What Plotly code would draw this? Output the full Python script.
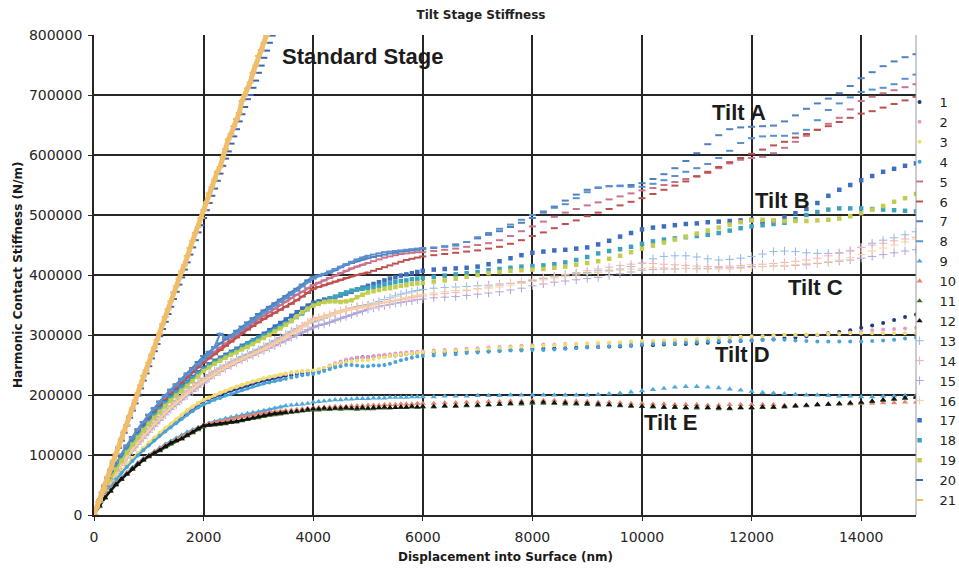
import plotly.graph_objects as go

# Displacement grid (nm) shared by the tilt-stage runs
DISP = [0, 100, 200, 300, 400, 500, 600, 700, 800, 900,
        1000, 1100, 1200, 1300, 1400, 1500, 1600, 1700, 1800, 1900,
        2000, 2100, 2200, 2300, 2400, 2500, 2600, 2700, 2800, 2900,
        3000, 3100, 3200, 3300, 3400, 3500, 3600, 3700, 3800, 3900,
        4000, 4100, 4200, 4300, 4400, 4500, 4600, 4700, 4800, 4900,
        5000, 5100, 5200, 5300, 5400, 5500, 5600, 5700, 5800, 5900,
        6000, 6200, 6400, 6600, 6800, 7000, 7200, 7400, 7600, 7800,
        8000, 8200, 8400, 8600, 8800, 9000, 9200, 9400, 9600, 9800,
        10000, 10200, 10400, 10600, 10800, 11000, 11200, 11400, 11600, 11800,
        12000, 12200, 12400, 12600, 12800, 13000, 13200, 13400, 13600, 13800,
        14000, 14200, 14400, 14600, 14800, 15000]

# Displacement grid (nm) for the standard stage runs
STD_DISP = [0, 50, 100, 150, 200, 250, 300, 350, 400, 450,
            500, 550, 600, 650, 700, 750, 800, 850, 900, 950,
            1000, 1050, 1100, 1150, 1200, 1250, 1300, 1350, 1400, 1450,
            1500, 1550, 1600, 1650, 1700, 1750, 1800, 1850, 1900, 1950,
            2000, 2050, 2100, 2150, 2200, 2250, 2300, 2350, 2400, 2450,
            2500, 2550, 2600, 2650, 2700, 2750, 2800, 2850, 2900, 2950,
            3000, 3050, 3100, 3150, 3200, 3250]

# Harmonic contact stiffness, kN/m
# Tilt D (runs 1-4)
run1 = [0, 18, 34, 48, 60, 72, 82, 92, 101, 110, 119, 127, 134, 142, 149, 156, 163, 171, 178, 184,
        190, 193, 197, 200, 204, 207, 210, 213, 216, 219, 222, 224, 226, 228, 230, 232, 233, 235, 236, 237,
        238, 240, 243, 246, 250, 253, 257, 260, 262, 263, 263, 264, 265, 266, 266, 266, 267, 268, 269, 270,
        270,
        271, 271, 272, 272, 273, 273, 274, 275, 276, 277, 277, 278, 278, 279, 280, 280, 281, 281, 282, 283,
        283, 284, 285, 285, 286, 287, 288, 289, 290, 291, 292, 293, 295, 296, 298, 300, 303, 305, 308, 312,
        316, 320, 325, 330, 334]
run2 = [0, 18, 35, 49, 61, 73, 83, 93, 102, 111, 120, 128, 136, 143, 151, 158, 166, 173, 180, 186,
        191, 195, 199, 203, 207, 210, 213, 216, 219, 222, 224, 227, 229, 231, 233, 235, 237, 238, 239, 240,
        240, 242, 245, 249, 253, 256, 259, 261, 262, 262, 263, 265, 266, 267, 268, 269, 270, 271, 272, 272,
        273,
        274, 275, 276, 277, 278, 279, 280, 281, 282, 283, 284, 284, 285, 285, 286, 286, 287, 287, 288, 288,
        289, 289, 290, 291, 292, 293, 294, 295, 296, 297, 298, 299, 300, 300, 300, 300, 301, 302, 304, 306,
        308, 309, 310, 311, 312]
run3 = [0, 19, 36, 50, 62, 74, 84, 94, 103, 112, 121, 129, 137, 145, 152, 160, 167, 175, 181, 187,
        192, 196, 200, 204, 207, 211, 214, 217, 220, 223, 225, 228, 230, 232, 234, 236, 238, 239, 240, 241,
        241, 243, 245, 248, 251, 253, 255, 256, 257, 258, 258, 260, 262, 263, 265, 266, 267, 268, 269, 270,
        271,
        272, 273, 274, 275, 276, 277, 278, 279, 280, 281, 282, 283, 284, 285, 286, 287, 287, 288, 289, 290,
        290, 291, 292, 292, 293, 294, 295, 296, 297, 298, 298, 299, 300, 300, 301, 301, 302, 302, 303, 303,
        303, 303, 303, 303, 303]
run4 = [0, 18, 34, 47, 59, 70, 80, 90, 99, 108, 116, 124, 132, 139, 146, 153, 160, 167, 173, 179,
        184, 188, 192, 195, 199, 202, 205, 208, 211, 214, 217, 219, 221, 223, 225, 227, 229, 231, 233, 234,
        235, 237, 240, 243, 246, 248, 250, 250, 249, 248, 248, 249, 249, 250, 252, 255, 258, 260, 262, 264,
        265,
        266, 267, 268, 270, 271, 272, 273, 274, 274, 275, 275, 276, 277, 278, 279, 280, 281, 282, 283, 284,
        285, 286, 286, 287, 288, 289, 290, 290, 291, 291, 292, 292, 292, 291, 290, 289, 289, 289, 289, 289,
        290, 291, 292, 294, 296]

# Tilt A (runs 5-8)
run5 = [0, 25, 47, 66, 84, 100, 115, 129, 142, 154, 166, 177, 188, 198, 207, 216, 225, 234, 242, 250,
        258, 265, 272, 279, 286, 293, 300, 307, 314, 320, 326, 332, 338, 344, 350, 356, 362, 367, 372, 378,
        383, 387, 391, 395, 399, 403, 407, 411, 414, 417, 420, 423, 426, 429, 431, 433, 435, 436, 437, 438,
        438,
        440, 442, 444, 447, 450, 453, 458, 465, 473, 481, 489, 497, 504, 510, 516, 521, 526, 531, 536, 541,
        545, 550, 555, 560, 565, 570, 578, 586, 592, 595, 597, 603, 612, 622, 632, 642, 652, 662, 676, 690,
        697, 703, 708, 713, 718]
run6 = [0, 24, 46, 65, 82, 97, 112, 125, 138, 150, 161, 172, 182, 192, 202, 211, 220, 229, 238, 246,
        254, 261, 268, 275, 282, 289, 296, 303, 309, 315, 321, 327, 332, 337, 342, 347, 352, 358, 364, 370,
        377, 380, 383, 386, 389, 392, 395, 398, 400, 402, 404, 407, 410, 413, 416, 419, 422, 425, 427, 429,
        431,
        433, 435, 437, 439, 441, 444, 447, 452, 458, 465, 471, 478, 485, 491, 498, 504, 510, 516, 522, 528,
        535, 542, 549, 556, 564, 572, 580, 588, 595, 602, 609, 616, 622, 629, 635, 642, 648, 655, 662, 669,
        673, 679, 685, 691, 697]
run7 = [0, 25, 48, 67, 85, 101, 116, 130, 143, 155, 167, 178, 189, 199, 209, 218, 227, 236, 245, 255,
        265, 272, 279, 286, 293, 300, 307, 314, 321, 328, 335, 341, 347, 353, 359, 365, 371, 377, 384, 391,
        397, 399, 401, 404, 408, 413, 417, 420, 423, 426, 428, 430, 432, 434, 436, 437, 439, 440, 441, 442,
        443,
        445, 448, 451, 455, 461, 467, 473, 480, 487, 495, 504, 514, 524, 534, 542, 546, 548, 549, 550, 553,
        560, 568, 578, 590, 603, 618, 633, 643, 646, 647, 648, 649, 656, 666, 677, 686, 694, 703, 715, 728,
        738, 748, 756, 763, 768]
run8 = [0, 25, 47, 67, 84, 100, 115, 129, 142, 155, 167, 178, 189, 199, 208, 217, 226, 235, 243, 251,
        259, 268, 280, 302, 296, 297, 303, 310, 317, 324, 331, 337, 343, 349, 355, 361, 367, 374, 381, 388,
        394, 398, 402, 406, 410, 414, 418, 422, 426, 429, 432, 434, 436, 438, 439, 440, 441, 442, 443, 444,
        445,
        446, 447, 449, 455, 463, 470, 477, 484, 492, 500, 506, 512, 518, 528, 538, 545, 548, 548, 547, 547,
        552, 558, 565, 572, 578, 585, 595, 607, 620, 628, 631, 632, 632, 636, 642, 658, 675, 686, 696, 705,
        709, 712, 718, 727, 734]

# Tilt E (runs 9-12)
run9 = [0, 16, 30, 42, 53, 62, 71, 79, 87, 94, 100, 106, 112, 118, 123, 128, 133, 138, 142, 146,
        150, 153, 156, 158, 161, 163, 165, 167, 169, 171, 172, 174, 176, 178, 180, 182, 183, 184, 185, 186,
        188, 189, 190, 191, 192, 192, 193, 193, 194, 194, 194, 195, 195, 195, 196, 196, 196, 196, 197, 197,
        197,
        197, 198, 198, 198, 199, 199, 199, 200, 200, 200, 200, 200, 200, 200, 200, 201, 202, 203, 205, 207,
        209, 211, 213, 214, 214, 213, 212, 210, 208, 206, 204, 203, 202, 201, 200, 200, 199, 198, 198, 197,
        197, 198, 198, 199, 199]
run10 = [0, 16, 30, 42, 52, 61, 70, 78, 86, 93, 99, 105, 110, 116, 121, 126, 130, 135, 140, 145,
         150, 152, 154, 156, 158, 160, 162, 164, 165, 167, 168, 170, 171, 172, 173, 174, 175, 176, 177, 178,
         179, 179, 180, 180, 181, 181, 181, 182, 182, 182, 183, 183, 183, 184, 184, 184, 185, 185, 185, 186,
         186,
         186, 187, 187, 188, 188, 189, 189, 190, 190, 191, 191, 191, 190, 190, 189, 188, 188, 187, 186, 186,
         185, 185, 184, 184, 184, 183, 183, 184, 184, 184, 184, 184, 183, 183, 183, 184, 184, 185, 185, 186,
         186, 187, 187, 188, 188]
run11 = [0, 15, 28, 40, 50, 59, 68, 76, 84, 91, 97, 102, 107, 113, 118, 123, 127, 132, 137, 142,
         147, 149, 150, 151, 152, 154, 155, 157, 159, 161, 162, 164, 166, 167, 168, 170, 171, 172, 173, 174,
         175, 175, 176, 176, 177, 176, 177, 177, 176, 177, 177, 177, 178, 178, 178, 179, 179, 179, 180, 180,
         180,
         180, 181, 181, 182, 182, 183, 184, 185, 185, 186, 186, 186, 185, 185, 184, 183, 183, 182, 181, 181,
         180, 179, 179, 178, 178, 178, 177, 177, 178, 178, 179, 179, 180, 181, 182, 183, 184, 185, 186, 187,
         189, 191, 193, 195, 197]
run12 = [0, 15, 29, 40, 51, 60, 68, 77, 85, 92, 98, 103, 108, 114, 120, 124, 127, 133, 138, 144,
         149, 150, 151, 152, 153, 155, 156, 158, 160, 162, 164, 166, 168, 169, 170, 171, 172, 173, 174, 176,
         177, 177, 178, 177, 178, 178, 179, 178, 178, 179, 178, 179, 179, 180, 179, 179, 180, 180, 181, 180,
         181,
         181, 182, 182, 183, 183, 184, 185, 186, 187, 188, 188, 187, 187, 186, 186, 185, 184, 183, 182, 181,
         181, 180, 180, 179, 180, 179, 179, 178, 179, 179, 180, 180, 181, 182, 183, 184, 185, 186, 187, 188,
         190, 192, 193, 195, 196]

# Tilt C (runs 13-16)
run13 = [0, 22, 42, 59, 74, 88, 100, 112, 123, 134, 144, 154, 164, 173, 182, 191, 199, 207, 214, 221,
         228, 234, 240, 245, 250, 255, 260, 264, 268, 272, 276, 281, 286, 291, 296, 301, 306, 311, 315, 319,
         322, 325, 328, 332, 336, 339, 342, 345, 347, 349, 350, 353, 356, 359, 362, 365, 368, 370, 372, 374,
         376,
         378, 379, 380, 381, 382, 383, 385, 386, 388, 391, 394, 397, 400, 402, 404, 407, 408, 410, 414, 420,
         427, 431, 432, 432, 430, 427, 425, 426, 428, 431, 435, 439, 440, 439, 437, 436, 436, 437, 440, 446,
         453, 458, 462, 467, 472]
run14 = [0, 22, 42, 58, 72, 86, 98, 110, 121, 132, 142, 152, 162, 171, 180, 189, 197, 205, 212, 219,
         226, 232, 238, 243, 248, 253, 257, 261, 265, 269, 273, 278, 283, 288, 293, 298, 303, 309, 315, 321,
         327, 329, 331, 334, 337, 340, 342, 344, 346, 348, 349, 351, 353, 354, 356, 357, 359, 360, 362, 364,
         365,
         367, 369, 371, 374, 377, 380, 383, 386, 389, 392, 395, 398, 401, 404, 407, 410, 413, 416, 418, 419,
         419, 418, 417, 416, 415, 414, 414, 415, 416, 417, 418, 419, 421, 423, 425, 428, 432, 436, 441, 446,
         450, 453, 457, 460, 463]
run15 = [0, 21, 40, 56, 70, 83, 95, 107, 118, 128, 138, 148, 158, 167, 176, 184, 192, 199, 206, 213,
         220, 227, 233, 239, 244, 249, 254, 258, 262, 266, 270, 274, 278, 282, 287, 291, 296, 300, 305, 309,
         313, 316, 318, 321, 325, 328, 331, 334, 337, 340, 343, 345, 347, 349, 351, 353, 354, 356, 357, 359,
         360,
         362, 363, 364, 366, 368, 370, 372, 375, 378, 382, 385, 388, 390, 392, 394, 396, 399, 402, 405, 408,
         409, 410, 410, 411, 411, 411, 412, 412, 413, 414, 414, 415, 415, 416, 417, 419, 421, 423, 425, 428,
         431, 434, 437, 440, 442]
run16 = [0, 22, 41, 57, 71, 85, 97, 109, 120, 131, 141, 151, 161, 170, 179, 187, 195, 203, 210, 217,
         223, 229, 235, 241, 246, 251, 256, 260, 264, 268, 272, 276, 281, 286, 291, 296, 301, 307, 313, 319,
         325, 327, 330, 333, 336, 339, 341, 343, 345, 347, 348, 350, 352, 354, 356, 358, 360, 362, 364, 366,
         368,
         370, 372, 374, 375, 377, 378, 380, 383, 386, 389, 392, 395, 398, 400, 402, 404, 406, 408, 410, 411,
         412, 412, 411, 411, 410, 410, 410, 410, 411, 412, 414, 415, 416, 417, 419, 420, 422, 425, 429, 434,
         440, 445, 450, 455, 460]

# Tilt B (runs 17-19)
run17 = [0, 24, 45, 63, 79, 94, 108, 121, 134, 146, 157, 168, 178, 188, 197, 206, 214, 222, 230, 238,
         245, 251, 257, 262, 267, 272, 277, 282, 286, 291, 296, 302, 308, 314, 320, 326, 332, 338, 344, 349,
         354, 356, 359, 361, 363, 366, 369, 372, 376, 379, 382, 385, 388, 391, 394, 396, 399, 401, 403, 405,
         407,
         409, 410, 411, 412, 414, 418, 423, 428, 433, 437, 439, 441, 442, 444, 446, 451, 457, 464, 470, 476,
         479, 481, 483, 485, 486, 488, 489, 490, 491, 492, 488, 490, 496, 503, 510, 520, 532, 542, 550, 558,
         565, 572, 577, 582, 586]
run18 = [0, 24, 44, 62, 78, 93, 107, 120, 132, 144, 155, 166, 176, 186, 195, 204, 212, 220, 228, 236,
         243, 249, 255, 260, 265, 270, 275, 280, 285, 290, 294, 299, 304, 309, 314, 319, 324, 330, 336, 343,
         350, 353, 356, 360, 364, 368, 371, 374, 376, 377, 378, 380, 382, 384, 386, 388, 390, 391, 393, 394,
         395,
         397, 399, 401, 403, 405, 408, 410, 412, 414, 415, 416, 418, 421, 425, 430, 436, 440, 443, 447, 452,
         456, 459, 461, 463, 465, 467, 470, 474, 478, 481, 483, 485, 487, 493, 500, 505, 509, 511, 511, 511,
         510, 509, 508, 507, 506]
run19 = [0, 23, 43, 60, 76, 90, 104, 117, 129, 141, 152, 162, 172, 182, 191, 199, 207, 215, 223, 231,
         240, 246, 252, 257, 262, 267, 271, 276, 280, 285, 290, 295, 300, 306, 311, 317, 323, 331, 338, 344,
         349, 352, 355, 356, 356, 355, 356, 358, 363, 367, 371, 373, 375, 377, 378, 380, 382, 383, 385, 386,
         387,
         389, 391, 394, 397, 400, 403, 405, 407, 408, 409, 410, 412, 414, 417, 420, 423, 427, 432, 438, 444,
         449, 454, 459, 464, 469, 474, 479, 484, 488, 491, 492, 491, 490, 490, 490, 491, 492, 494, 498, 503,
         509, 515, 522, 528, 535]

# Standard stage (runs 20-21)
run20 = [0, 12, 24, 37, 49, 62, 74, 87, 99, 112, 124, 137, 149, 162, 174, 186, 199, 211, 224, 236,
         248, 261, 273, 285, 298, 310, 322, 335, 347, 360, 372, 384, 396, 409, 421, 434, 446, 458, 471, 483,
         495, 508, 520, 532, 544, 557, 569, 582, 594, 606, 619, 631, 643, 656, 668, 680, 693, 700, 712, 724,
         737, 749, 762, 774, 787, 799]
run21 = [0, 13, 25, 38, 51, 64, 76, 91, 102, 114, 127, 140, 150, 165, 178, 191, 203, 216, 232, 241,
         254, 267, 279, 292, 302, 318, 330, 343, 356, 371, 381, 394, 406, 416, 432, 445, 457, 470, 480, 495,
         508, 521, 536, 546, 559, 572, 580, 597, 610, 626, 635, 648, 660, 670, 690, 699, 711, 721, 737, 749,
         765, 775, 787, 800, None, None]

RUN_NAMES = [str(i) for i in range(1, 22)]

runs = [run1, run2, run3, run4, run5, run6, run7, run8, run9, run10, run11,
        run12, run13, run14, run15, run16, run17, run18, run19, run20, run21]

COLORS = ['#1f3a7a', '#e79ad2', '#efe06a', '#4aa3d8',
          '#c9738c', '#c0504d', '#4f81bd', '#5a8fd0',
          '#4fa9df', '#e8846d', '#3f6b2a', '#111111',
          '#8fb9e6', '#f4b0b8', '#b0a4dc', '#f8cfa0',
          '#3d6fbf', '#3ea2bd', '#c2cc4e',
          '#3a66b8', '#f0bd6a']

def marker_for(i, color):
    """Excel-style marker families: dots, dashes, triangles, pluses, squares."""
    if i < 4:
        return dict(symbol='circle', size=4, color=color)
    if i < 8 or i >= 19:
        return dict(symbol='line-ew', size=5, color=color,
                    line=dict(width=2, color=color))
    if i < 12:
        return dict(symbol='triangle-up', size=5.5, color=color)
    if i < 16:
        return dict(symbol='cross-thin', size=6, color=color,
                    line=dict(width=1, color=color))
    return dict(symbol='square', size=4.5, color=color)

# how far (index into DISP) the dense early part is joined with a line
def line_end(i):
    if i < 4 or 8 <= i < 12:
        return 36
    return 51

fig = go.Figure()

for i, vals in enumerate(runs):
    color = COLORS[i]
    xs = STD_DISP if i >= 19 else DISP
    assert len(xs) == len(vals), (i, len(xs), len(vals))
    ys = [None if v is None else v * 1000 for v in vals]
    if i < 19:
        n = line_end(i)
        fig.add_trace(go.Scatter(x=xs[:n], y=ys[:n], mode='lines',
                                 line=dict(color=color, width=2.2),
                                 showlegend=False, hoverinfo='skip'))
    elif i == 20:
        fig.add_trace(go.Scatter(x=xs, y=ys, mode='lines',
                                 line=dict(color=color, width=5),
                                 showlegend=False, hoverinfo='skip'))
    fig.add_trace(go.Scatter(x=xs, y=ys, mode='markers', name=RUN_NAMES[i],
                             marker=marker_for(i, color)))

# plot-area geometry in pixels
W, H = 959, 571
L, R, T, B = 94, 916, 35, 515

def px(xp):
    return (xp - L) / (R - L)

def py(yp):
    return (B - yp) / (B - T)

LABEL_FONT = dict(family='Liberation Sans, Arial, sans-serif', size=22, color='#1c1c1c')
labels = [('Standard Stage', 362, 57), ('Tilt A', 739, 113), ('Tilt B', 782, 200),
          ('Tilt C', 815, 287), ('Tilt D', 742, 354), ('Tilt E', 670, 422)]
annotations = [dict(text='<b>%s</b>' % t, x=px(xp), y=py(yp), xref='paper', yref='paper',
                    xanchor='center', yanchor='middle', showarrow=False, font=LABEL_FONT)
               for t, xp, yp in labels]

AX_TITLE_FONT = dict(family='DejaVu Sans, Verdana, sans-serif', size=12, color='#1a1a1a')
annotations.append(dict(text='<b>Displacement into Surface (nm)</b>', x=px(505), y=py(557),
                        xref='paper', yref='paper', xanchor='center', yanchor='middle',
                        showarrow=False, font=AX_TITLE_FONT))
annotations.append(dict(text='<b>Harmonic Contact Stiffness (N/m)</b>', x=px(18), y=py(275),
                        xref='paper', yref='paper', xanchor='center', yanchor='middle',
                        textangle=-90, showarrow=False, font=AX_TITLE_FONT))

TICK_FONT = dict(family='DejaVu Sans, Verdana, sans-serif', size=14, color='#262626')
GRID = '#262626'

fig.update_layout(
    width=W, height=H,
    margin=dict(l=L, r=W - R, t=T, b=H - B, autoexpand=False),
    paper_bgcolor='white', plot_bgcolor='white',
    title=dict(text='<b>Tilt Stage Stiffness</b>', x=481 / W, xref='container', xanchor='center',
               y=1 - 15 / H, yref='container', yanchor='middle',
               font=dict(family='DejaVu Sans, Verdana, sans-serif', size=12, color='#222222')),
    xaxis=dict(range=[0, 15000], dtick=2000, tick0=0, tickformat='d',
               showgrid=True, gridcolor=GRID, gridwidth=1.7,
               zeroline=False, showline=True, linecolor=GRID, linewidth=1.7,
               ticks='outside', ticklen=4, tickcolor=GRID, tickfont=TICK_FONT,
               ticklabelstandoff=4),
    yaxis=dict(range=[0, 800000], dtick=100000, tick0=0, tickformat='d',
               showgrid=True, gridcolor=GRID, gridwidth=1.7,
               zeroline=False, showline=True, linecolor=GRID, linewidth=1.7,
               ticks='outside', ticklen=4, tickcolor=GRID, tickfont=TICK_FONT,
               ticklabelstandoff=3),
    legend=dict(x=0.98, xanchor='left', y=py(87), yanchor='top',
                font=dict(family='DejaVu Sans, Verdana, sans-serif', size=13, color='#222222'),
                bgcolor='rgba(0,0,0,0)', borderwidth=0, itemwidth=30, tracegroupgap=0),
    annotations=annotations,
    shapes=[dict(type='line', xref='paper', yref='paper', x0=1, x1=1, y0=0, y1=1,
                 line=dict(color='#9a9a9a', width=1))],
    showlegend=True,
)

fig.write_html("out.html")
